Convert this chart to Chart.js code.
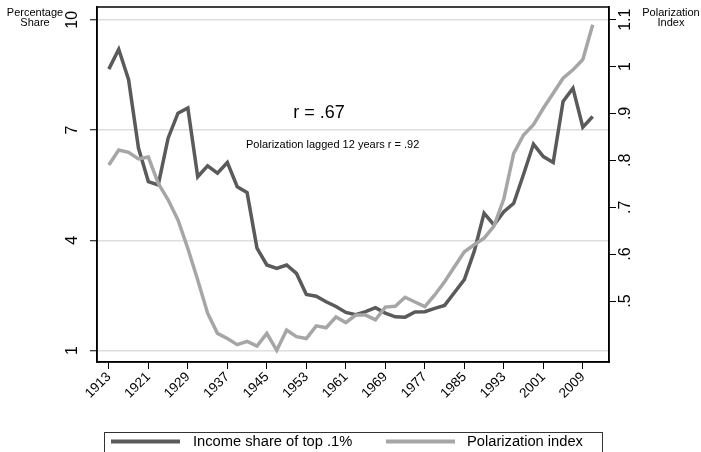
<!DOCTYPE html>
<html>
<head>
<meta charset="utf-8">
<script src="https://cdn.jsdelivr.net/npm/chart.js"></script>
<style>
  body { margin: 0; background: #fff; }
  #wrap { width: 701px; height: 452px; position: relative; }
</style>
</head>
<body>
<div id="wrap"><canvas id="chart"></canvas></div>
<script>
// data
const years = [1913, 1915, 1917, 1919, 1921, 1923, 1925, 1927, 1929, 1931,
  1933, 1935, 1937, 1939, 1941, 1943, 1945, 1947, 1949, 1951,
  1953, 1955, 1957, 1959, 1961, 1963, 1965, 1967, 1969, 1971,
  1973, 1975, 1977, 1979, 1981, 1983, 1985, 1987, 1989, 1991,
  1993, 1995, 1997, 1999, 2001, 2003, 2005, 2007, 2009, 2011];

const incomeShare = [8.66, 9.20, 8.37, 6.51, 5.60, 5.51, 6.78, 7.46, 7.60, 5.73,
  6.03, 5.83, 6.12, 5.46, 5.30, 3.79, 3.33, 3.24, 3.33, 3.10,
  2.53, 2.48, 2.33, 2.20, 2.04, 1.98, 2.06, 2.17, 2.02, 1.92,
  1.91, 2.05, 2.06, 2.15, 2.23, 2.58, 2.93, 3.70, 4.74, 4.42,
  4.78, 5.01, 5.80, 6.62, 6.28, 6.12, 7.78, 8.14, 7.08, 7.37];

const polarization = [0.790, 0.822, 0.817, 0.803, 0.807, 0.751, 0.716, 0.673, 0.612, 0.545,
  0.474, 0.431, 0.420, 0.407, 0.414, 0.404, 0.431, 0.395, 0.438, 0.424,
  0.420, 0.447, 0.443, 0.466, 0.454, 0.470, 0.470, 0.460, 0.487, 0.489,
  0.508, 0.498, 0.488, 0.513, 0.541, 0.573, 0.605, 0.620, 0.634, 0.660,
  0.718, 0.815, 0.854, 0.876, 0.911, 0.943, 0.975, 0.993, 1.015, 1.089];

const xTicks = [1913, 1921, 1929, 1937, 1945, 1953, 1961, 1969, 1977, 1985, 1993, 2001, 2009];
const leftTicks = [1, 4, 7, 10];
const rightTicks = [0.5, 0.6, 0.7, 0.8, 0.9, 1, 1.1];
const rightTickLabels = ['.5', '.6', '.7', '.8', '.9', '1', '1.1'];

const FONT = '"Liberation Sans", Arial, Helvetica, sans-serif';
const DARK = '#5a5a5a';
const LIGHT = '#a6a6a6';

const decor = {
  id: 'decor',
  afterDraw(chart) {
    const { ctx, chartArea: a, scales } = chart;
    ctx.save();

    // box round the plot
    ctx.strokeStyle = '#000';
    ctx.lineWidth = 1.5;
    ctx.strokeRect(a.left, a.top, a.right - a.left, a.bottom - a.top);

    // rotated y tick labels
    ctx.fillStyle = '#000';
    ctx.font = '16px ' + FONT;
    ctx.textAlign = 'center';
    ctx.textBaseline = 'middle';
    leftTicks.forEach(v => {
      const py = scales.y.getPixelForValue(v);
      ctx.save();
      ctx.translate(73, py);
      ctx.rotate(-Math.PI / 2);
      ctx.fillText(String(v), 0, 0);
      ctx.restore();
    });
    rightTicks.forEach((v, i) => {
      const py = scales.y2.getPixelForValue(v);
      ctx.save();
      ctx.translate(626, py);
      ctx.rotate(-Math.PI / 2);
      ctx.fillText(rightTickLabels[i], 0, 0);
      ctx.restore();
    });

    // axis titles
    ctx.font = '11px ' + FONT;
    ctx.textBaseline = 'alphabetic';
    ctx.fillText('Percentage', 35, 16);
    ctx.fillText('Share', 35, 26);
    ctx.fillText('Polarization', 671, 16);
    ctx.fillText('Index', 671, 26);

    // notes inside the plot
    ctx.font = '18px ' + FONT;
    ctx.fillText('r = .67', 319, 118);
    ctx.font = '11px ' + FONT;
    ctx.textAlign = 'left';
    ctx.fillText('Polarization lagged 12 years r = .92', 246, 148);

    // legend
    ctx.strokeStyle = '#333';
    ctx.lineWidth = 1;
    ctx.strokeRect(104.5, 432.5, 498, 40);
    ctx.lineWidth = 4;
    ctx.strokeStyle = DARK;
    ctx.beginPath(); ctx.moveTo(111, 441.5); ctx.lineTo(180, 441.5); ctx.stroke();
    ctx.strokeStyle = LIGHT;
    ctx.beginPath(); ctx.moveTo(386, 441.5); ctx.lineTo(455, 441.5); ctx.stroke();
    ctx.font = '14.7px ' + FONT;
    ctx.textBaseline = 'middle';
    ctx.fillStyle = '#000';
    ctx.fillText(chart.data.datasets[0].label, 193, 442);
    ctx.fillText(chart.data.datasets[1].label, 467, 442);

    ctx.restore();
  }
};

new Chart(document.getElementById('chart'), {
  type: 'line',
  data: {
    datasets: [
      {
        label: 'Income share of top .1%',
        data: years.map((yr, i) => ({ x: yr, y: incomeShare[i] })),
        borderColor: DARK,
        borderWidth: 3.5,
        pointRadius: 0,
        tension: 0,
        yAxisID: 'y',
        order: 2
      },
      {
        label: 'Polarization index',
        data: years.map((yr, i) => ({ x: yr, y: polarization[i] })),
        borderColor: LIGHT,
        borderWidth: 3.5,
        pointRadius: 0,
        tension: 0,
        yAxisID: 'y2',
        order: 1
      }
    ]
  },
  options: {
    responsive: true,
    maintainAspectRatio: false,
    animation: false,
    layout: { padding: { top: 7, left: 0, right: 0, bottom: 0 } },
    plugins: { legend: { display: false }, tooltip: { enabled: false } },
    scales: {
      x: {
        type: 'linear',
        position: 'bottom',
        min: 1910.6,
        max: 2014.3,
        afterBuildTicks: s => { s.ticks = xTicks.map(v => ({ value: v })); },
        afterFit: s => { s.height = 90; },
        ticks: {
          autoSkip: false,
          minRotation: 45,
          maxRotation: 45,
          padding: 0,
          color: '#000',
          font: { family: FONT, size: 13.5 },
          callback: v => String(v)
        },
        grid: { drawOnChartArea: false, color: '#000', tickLength: 7, lineWidth: 1 },
        border: { color: '#000', width: 1.5 }
      },
      y: {
        position: 'left',
        min: 0.69,
        max: 10.35,
        afterBuildTicks: s => { s.ticks = leftTicks.map(v => ({ value: v })); },
        afterFit: s => { s.width = 97; },
        ticks: { display: false },
        grid: { color: '#dedede', lineWidth: 1.5, tickLength: 7, tickColor: '#000', tickWidth: 1 },
        border: { color: '#000', width: 1.5 }
      },
      y2: {
        position: 'right',
        min: 0.370,
        max: 1.127,
        afterBuildTicks: s => { s.ticks = rightTicks.map(v => ({ value: v })); },
        afterFit: s => { s.width = 92; },
        ticks: { display: false },
        grid: { drawOnChartArea: false, color: '#000', tickLength: 7, lineWidth: 1 },
        border: { color: '#000', width: 1.5 }
      }
    }
  },
  plugins: [decor]
});
</script>
</body>
</html>
